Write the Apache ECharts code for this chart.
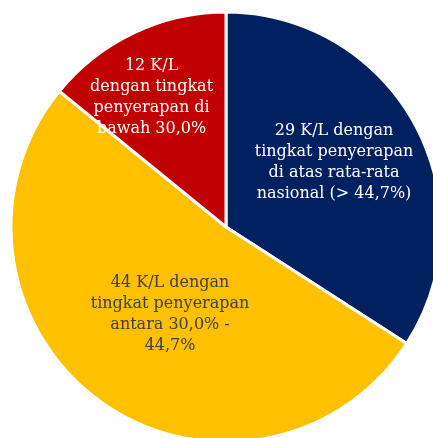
<!DOCTYPE html>
<html>
<head>
<meta charset="utf-8">
<script src="https://cdn.jsdelivr.net/npm/echarts@6/dist/echarts.min.js"></script>
<style>
html, body { margin: 0; padding: 0; background: #fff; }
#main { width: 433px; height: 438px; }
</style>
</head>
<body>
<div id="main"></div>
<script>
// data
var categories = [
    '29 K/L dengan\ntingkat penyerapan\ndi atas rata-rata\nnasional (> 44,7%)',
    '44 K/L dengan\ntingkat penyerapan\nantara 30,0% -\n44,7%',
    '12 K/L\ndengan tingkat\npenyerapan di\nbawah 30,0%'
];
var values = [29, 44, 12];
var colors = ['#002060', '#FFC000', '#C00000'];
var textColors = ['#ffffff', '#404040', '#ffffff'];
var labelShift = [[11, -12], [9, -2], [-27, -30]];

var chart = echarts.init(document.getElementById('main'));

var pieData = values.map(function (v, i) {
    return {
        name: categories[i],
        value: v,
        itemStyle: { color: colors[i] },
        label: { color: textColors[i] }
    };
});

var option = {
    animation: false,
    series: [{
        type: 'pie',
        center: [226, 227],
        radius: [0, 215],
        startAngle: 90,
        clockwise: true,
        itemStyle: {
            borderColor: '#ffffff',
            borderWidth: 3
        },
        label: {
            show: true,
            position: 'inside',
            formatter: '{b}',
            fontFamily: 'DejaVu Serif',
            fontSize: 16,
            lineHeight: 21,
            align: 'center'
        },
        labelLine: { show: false },
        labelLayout: function (params) {
            var s = labelShift[params.dataIndex];
            return { dx: s[0], dy: s[1] };
        },
        emphasis: { disabled: true },
        data: pieData
    }]
};

chart.setOption(option);
window.addEventListener('resize', function () {
    chart.resize();
});
</script>
</body>
</html>
